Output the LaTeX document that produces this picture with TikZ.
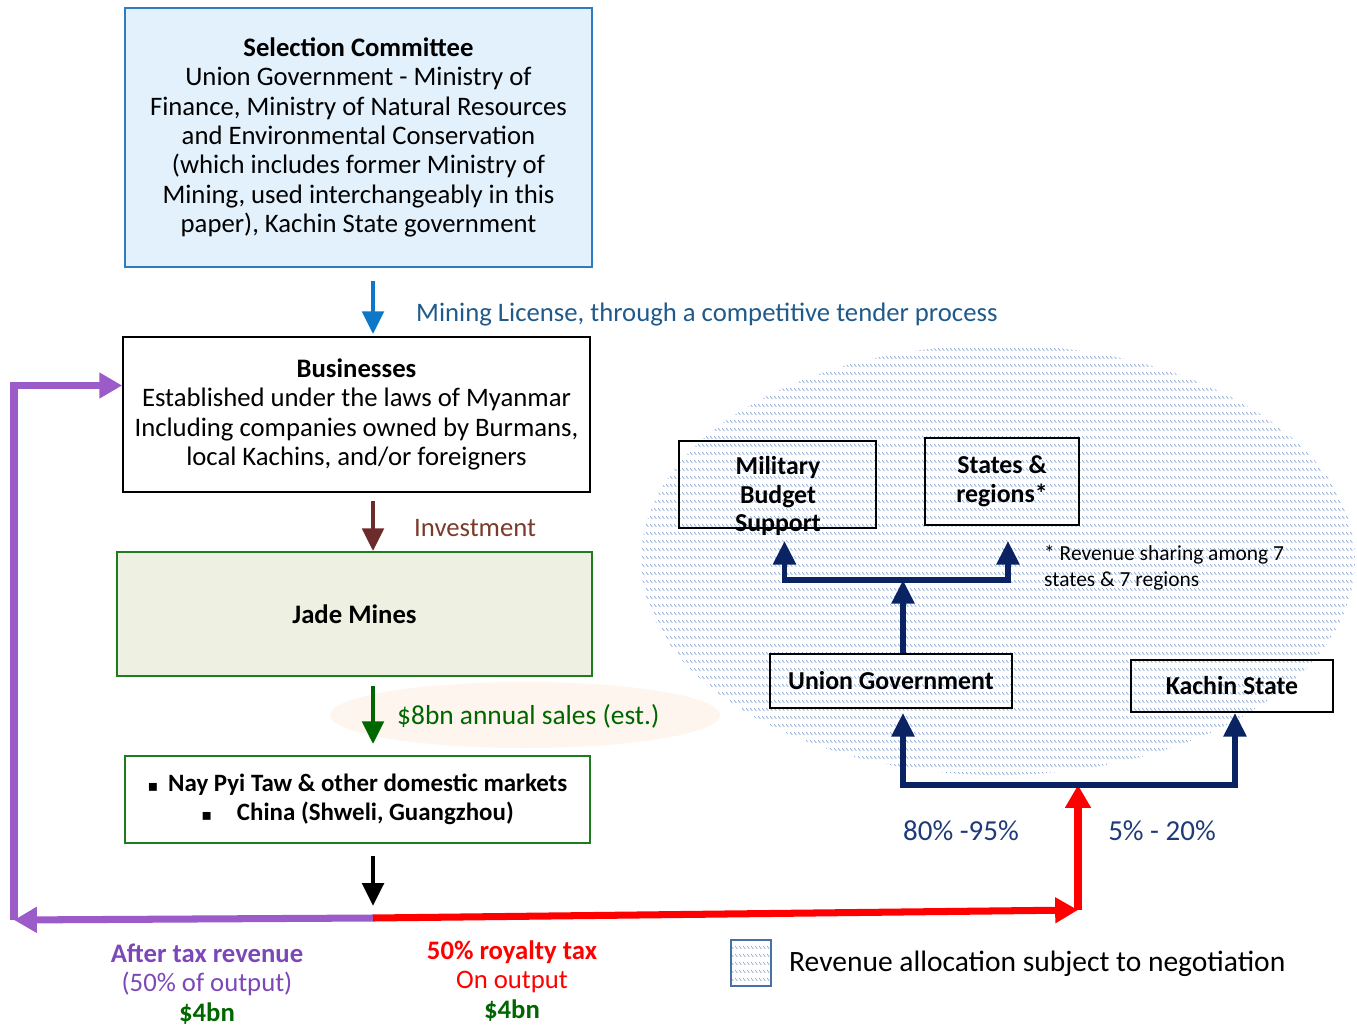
\documentclass[tikz,border=0pt]{standalone}
\usepackage{fontspec}
\setmainfont{Carlito}
\newfontfamily\bulletfont{DejaVu Sans}
\usetikzlibrary{arrows.meta,positioning,calc,patterns}

\definecolor{selfill}{HTML}{E3F1FC}
\definecolor{selline}{HTML}{2E7BC0}
\definecolor{licblue}{HTML}{0E78C8}
\definecolor{lictext}{HTML}{1F5A8A}
\definecolor{invbrown}{HTML}{6E2B2B}
\definecolor{invtext}{HTML}{7B3A2A}
\definecolor{jadefill}{HTML}{EEF1E1}
\definecolor{mktgreen}{HTML}{1E7B1E}
\definecolor{salegreen}{HTML}{006600}
\definecolor{salebg}{HTML}{FDF5EE}
\definecolor{taxpurple}{HTML}{9B5BC8}
\definecolor{purtext}{HTML}{7C48B8}
\definecolor{navyline}{HTML}{0A2463}
\definecolor{pcttext}{HTML}{1F3A78}
\definecolor{hatchblue}{HTML}{8CA6CE}
\definecolor{legline}{HTML}{4A6FA5}

% rows of small diagonal ticks
\pgfdeclarepatternformonly{tickrows}{\pgfpointorigin}{\pgfpoint{2.3pt}{4.5pt}}{\pgfpoint{2.3pt}{4.5pt}}{%
  \pgfsetlinewidth{0.45pt}%
  \pgfpathmoveto{\pgfpoint{0pt}{1.7pt}}\pgfpathlineto{\pgfpoint{1.7pt}{0pt}}\pgfusepath{stroke}}

\begin{document}
\begin{tikzpicture}[
  x=0.02cm, y=-0.02cm,
  font=\fontsize{15.2}{16.7}\selectfont,
  panel/.style={draw, align=center, inner sep=0pt, line width=1pt},
  pool/.style={draw, line width=1pt, inner sep=0pt},
  pooltext/.style={align=center, font=\fontsize{14.7}{16.4}\selectfont\bfseries},
  flow/.style={-{Triangle[width=12pt,length=13pt]}, line width=2.8pt},
  wide/.style={-{Triangle[width=14pt,length=13pt]}, line width=4pt},
  navyflow/.style={-{Triangle[width=12.5pt,length=13.5pt]}, line width=3.3pt, draw=navyline}
]
\useasboundingbox (0,0) rectangle (1357,1028);

% shaded pool and sales halo
\fill[pattern=tickrows, pattern color=hatchblue] (998,560) ellipse [x radius=357, y radius=215];
\fill[salebg] (525,715) ellipse [x radius=195, y radius=33];

% left column
\coordinate (spine) at (373,0);
\node[panel, fill=selfill, draw=selline, line width=1.2pt, minimum width=9.34cm, minimum height=5.18cm] (sel) at (358.5,137.5)
  {\textbf{Selection Committee}\\Union Government - Ministry of\\Finance, Ministry of Natural Resources\\and Environmental Conservation\\(which includes former Ministry of\\Mining, used interchangeably in this\\paper), Kachin State government};
\node[panel, minimum width=9.34cm, minimum height=3.1cm] (biz) at (356.5,414.5)
  {\textbf{Businesses}\\Established under the laws of Myanmar\\Including companies owned by Burmans,\\local Kachins, and/or foreigners};
\node[panel, fill=jadefill, draw=mktgreen, minimum width=9.5cm, minimum height=2.48cm] (jade) at (354.5,614)
  {\textbf{Jade Mines}};
\node[panel, draw=mktgreen, minimum width=9.3cm, minimum height=1.74cm, font=\fontsize{14.2}{16.7}\selectfont\bfseries] (mkt) at (357.5,799.5)
  {{\bulletfont\fontsize{9}{9}\selectfont ▪}\, Nay Pyi Taw \& other domestic markets\\{\bulletfont\fontsize{9}{9}\selectfont ▪}\quad China (Shweli, Guangzhou)};

\coordinate (split) at (373,918);
\coordinate (pc) at (14,920);
\coordinate (rc) at (1078,910);
\coordinate (base) at (1078,785);

\draw[flow, licblue] ($(sel.south -| spine)+(0,13)$) -- ($(biz.north -| spine)+(0,-2)$);
\node[anchor=west, text=lictext] (lic) at (410,315) {Mining License, through a competitive tender process};
\draw[flow, invbrown] ($(biz.south -| spine)+(0,8)$) -- (jade.north -| spine);
\node[anchor=west, text=invtext] (inv) at (408,528) {Investment};
\draw[flow, salegreen] ($(jade.south -| spine)+(0,9)$) -- ($(mkt.north -| spine)+(0,-11)$);
\node[anchor=west, text=salegreen, font=\fontsize{15.6}{17}\selectfont] (sales) at (391,716) {\$8bn annual sales (est.)};
\draw[flow, black] ($(mkt.south -| spine)+(0,12)$) -- ($(split)+(0,-12)$);

% split of output
\draw[wide, taxpurple] (split) -- (pc);
\draw[wide, taxpurple] (pc) |- ($(biz.west)+(0,-29)$);
\draw[wide, red] (split) -- (rc);
\draw[wide, red] (rc) -- (base);

\node[align=center, text=purtext] (after) at (207,984)
  {\textbf{After tax revenue}\\(50\% of output)\\\textcolor{salegreen}{\textbf{\$4bn}}};
\node[align=center, text=red] (royal) at (512,981)
  {\textbf{50\% royalty tax}\\On output\\\textcolor{salegreen}{\textbf{\$4bn}}};

% allocation boxes
\node[pool, minimum width=3.94cm, minimum height=1.74cm] (mil) at (777.5,484.5) {};
\node[pooltext] (miltext) at (778,496) {Military\\Budget\\Support};
\node[pool, minimum width=3.08cm, minimum height=1.74cm, pooltext] (st) at (1002,481.5) {States \&\\regions*};
\node[pool, minimum width=4.84cm, minimum height=1.08cm, pooltext] (ug) at (891,681) {Union Government};
\node[pool, minimum width=4.04cm, minimum height=1.04cm, pooltext] (ks) at (1232,686) {Kachin State};
\node[anchor=west, align=left, font=\fontsize{12.2}{14.7}\selectfont] (note) at (1038,568)
  {* Revenue sharing among 7\\states \& 7 regions};

\coordinate (fork) at (903,580);
\draw[navyflow] ($(ug.north)+(12,0)$) -- (fork);
\draw[navyflow, {Triangle[width=12.5pt,length=13.5pt]}-{Triangle[width=12.5pt,length=13.5pt]}]
  ($(mil.south)+(7,12)$) |- (fork) -| ($(st.south)+(6,15)$);
\draw[navyflow, {Triangle[width=12.5pt,length=13.5pt]}-{Triangle[width=12.5pt,length=13.5pt]}]
  ($(ug.south)+(12,4)$) |- (base) -| ($(ks.south)+(3,0)$);

\node[text=pcttext, font=\fontsize{16.5}{19}\selectfont] (union pct) at (961,831) {80\% -95\%};
\node[text=pcttext, font=\fontsize{16.5}{19}\selectfont] (kachin pct) at (1162,831) {5\% - 20\%};

% legend
\node[draw=legline, line width=1pt, pattern=tickrows, pattern color=hatchblue, minimum width=0.8cm, minimum height=0.92cm, inner sep=0pt] (key) at (751,963) {};
\node[anchor=west, font=\fontsize{16.8}{19}\selectfont] (keytext) at (783,964) {Revenue allocation subject to negotiation};
\end{tikzpicture}
\end{document}
